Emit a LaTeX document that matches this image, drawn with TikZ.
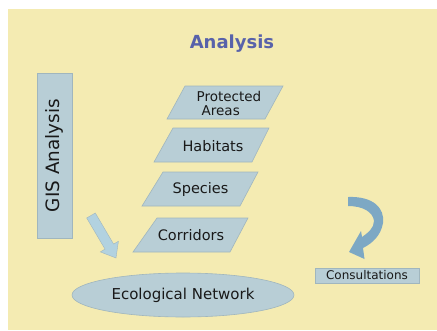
\documentclass[tikz,border=0pt]{standalone}
\usepackage{fontspec}
\setmainfont{DejaVu Sans}
\usetikzlibrary{shapes.geometric}
\definecolor{bgyellow}{RGB}{244,235,178}
\definecolor{boxfill}{RGB}{184,206,214}
\definecolor{boxline}{RGB}{160,182,190}
\definecolor{curvearrow}{RGB}{125,168,196}
\definecolor{diagarrow}{RGB}{178,210,224}
\definecolor{titleblue}{RGB}{88,98,170}
\definecolor{inktext}{RGB}{25,25,25}
\tikzset{
  boxshape/.style={fill=boxfill, draw=boxline, line width=0.6pt},
  paratext/.style={text=inktext, font=\fontsize{14.5}{12.5}\selectfont, inner sep=0pt},
}
\begin{document}
\begin{tikzpicture}[x=1pt,y=-1pt]
\useasboundingbox (0,0) rectangle (437,330);
\fill[bgyellow] (8,9) rectangle (437,330);

% title
\node[text=titleblue, font=\fontsize{18}{20}\selectfont\bfseries, inner sep=0pt] (title) at (232,44) {Analysis};

% GIS Analysis box
\node[boxshape, rotate=90, minimum width=165pt, minimum height=35pt, inner sep=0pt,
      text=inktext, font=\fontsize{18.4}{20}\selectfont] (gis) at (54.5,155.5) {GIS Analysis};

% parallelograms
\path[boxshape] (185,86) -- (283,86) -- (265,119) -- (167,119) -- cycle;
\node[paratext, align=left, font=\fontsize{13.5}{14.2}\selectfont] (prot) at (229,103.5) {Protected\\\hspace*{5pt}Areas};
\path[boxshape] (173,128) -- (269,128) -- (252,162) -- (154,162) -- cycle;
\node[paratext] (hab) at (213,146) {Habitats};
\path[boxshape] (163,172) -- (258,172) -- (240,206) -- (142,206) -- cycle;
\node[paratext] (spec) at (200.5,189.5) {Species};
\path[boxshape] (157,218) -- (248,218) -- (230,252) -- (133,252) -- cycle;
\node[paratext] (corr) at (191,235.5) {Corridors};

% diagonal block arrow
\fill[diagarrow, draw=boxline, line width=0.4pt]
  (95.3,213.0) -- (113.6,244.1) -- (118.4,241.3) -- (116,258) -- (100.3,251.9)
  -- (105.0,249.1) -- (86.7,218.0) -- cycle;

% curved arrow
\fill[curvearrow]
  (348,197) .. controls (373,196) and (385,208) .. (383,223)
  .. controls (381,235) and (373,243) .. (363,248)
  -- (364.5,259) -- (349,252) -- (361,231) -- (362,237)
  .. controls (368,233) and (374,228) .. (374,221)
  .. controls (373,212) and (363,206) .. (348,206) -- cycle;

% consultations
\node[boxshape, minimum width=104pt, minimum height=15pt, inner sep=0pt,
      text=inktext, font=\fontsize{12}{13}\selectfont] (cons) at (367,275.5) {Consultations};

% ecological network
\node[boxshape, ellipse, minimum width=222pt, minimum height=44pt, inner sep=0pt,
      text=inktext, font=\fontsize{15}{16}\selectfont] (eco) at (183,295) {Ecological Network};
\end{tikzpicture}
\end{document}
